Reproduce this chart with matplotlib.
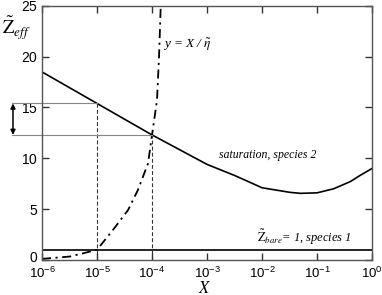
import numpy as np
import matplotlib
matplotlib.use("Agg")
import matplotlib.pyplot as plt
import matplotlib.transforms as mtransforms

plt.rcParams['mathtext.fontset'] = 'stix'
plt.rcParams['font.family'] = ['Liberation Sans', 'DejaVu Sans']

# ---- data ----
sat_x = [1e-6, 1e-5, 1e-4, 1e-3, 3.2e-3, 1e-2, 3.2e-2, 5e-2, 1e-1, 2e-1, 4e-1, 6e-1, 1.0]
sat_y = [18.5, 15.4, 12.3, 9.4, 8.3, 7.1, 6.65, 6.55, 6.6, 7.0, 7.7, 8.3, 9.0]

dd_x = [1e-6, 3.2e-6, 5.6e-6, 1e-5, 1.95e-5, 3.66e-5, 5.56e-5, 8.46e-5, 1e-4, 1.23e-4, 1.34e-4, 1.44e-4]
dd_y = [0.1, 0.33, 0.65, 1.0, 2.95, 4.9, 6.9, 9.5, 12.3, 15.7, 20.0, 25.0]

bare_x = [1e-6, 1.0]
bare_y = [1.0, 1.0]

x_marks = [1e-5, 1e-4]          # where the construction lines drop
xticks = [1e-6, 1e-5, 1e-4, 1e-3, 1e-2, 1e-1, 1e0]
xtick_labels = [r'$\mathregular{10^{-6}}$', r'$\mathregular{10^{-5}}$', r'$\mathregular{10^{-4}}$',
                r'$\mathregular{10^{-3}}$', r'$\mathregular{10^{-2}}$', r'$\mathregular{10^{-1}}$',
                r'$\mathregular{10^{0}}$']
yticks = [0, 5, 10, 15, 20, 25]

fig = plt.figure(figsize=(3.82, 2.95), dpi=100)
ax = fig.add_axes([0.110, 0.119, 0.864, 0.861])

ax.set_xscale('log')
ax.set_xlim(1e-6, 1.0)
ax.set_ylim(0, 25)

# curves
ax.plot(sat_x, sat_y, color='black', lw=1.2)
ax.plot(dd_x, dd_y, color='black', lw=1.3, linestyle=(0, (5, 2.5, 1.2, 2.5)))
ax.plot(bare_x, bare_y, color='black', lw=1.2)

# construction lines
sat_at = [float(np.interp(np.log10(xm), np.log10(sat_x), sat_y)) for xm in x_marks]
trans = mtransforms.blended_transform_factory(ax.transAxes, ax.transData)
for xm, ym in zip(x_marks, sat_at):
    ax.plot([xm, xm], [0, ym], color='#333333', lw=0.8, linestyle=(0, (3.5, 2)))
    xfrac = (np.log10(xm) + 6) / 6.0
    ax.plot([-0.09, xfrac], [ym, ym], color='#888888', lw=0.8, transform=trans, clip_on=False)

ax.annotate('', xy=(-0.088, sat_at[1]), xytext=(-0.088, sat_at[0]),
            xycoords=trans, textcoords=trans,
            arrowprops=dict(arrowstyle='<|-|>', color='black', lw=1.1,
                            mutation_scale=7, shrinkA=0, shrinkB=0),
            annotation_clip=False)

# ticks
ax.set_xticks(xticks)
ax.set_xticklabels(xtick_labels)
ax.minorticks_off()
ax.set_yticks(yticks)
ax.set_yticklabels([r'$\mathregular{%d}$' % v for v in yticks])
ax.tick_params(direction='in', length=5, width=1, color='#333333',
               top=True, right=True, labelsize=10, pad=3)
ax.tick_params(axis='x', pad=4, labelsize=9.5)
for s in ax.spines.values():
    s.set_color('#555555')
    s.set_linewidth(1.0)

# nudge the "0" label up slightly so it does not collide with 10^-6
zero_lbl = ax.get_yticklabels()[0]
zero_lbl.set_transform(zero_lbl.get_transform() +
                       mtransforms.ScaledTranslation(0, 2.5 / 72, fig.dpi_scale_trans))

# text labels
serif = ['Liberation Serif', 'DejaVu Serif']
ax.text(0.536, 0.413, 'saturation, species 2', transform=ax.transAxes,
        family=serif, style='italic', fontsize=8.5, va='center', ha='left')
ax.text(0.652, 0.09, r'$\tilde{\mathrm{Z}}_{bare}$= 1, species 1', transform=ax.transAxes,
        family=serif, style='italic', fontsize=9, va='center', ha='left')
ax.text(0.367, 0.846, r'y = X / $\tilde{\eta}$', transform=ax.transAxes,
        family=serif, style='italic', fontsize=9.5, va='center', ha='left')

fig.text(0.005, 0.905, r'$\tilde{\mathrm{Z}}_{eff}$', fontsize=13.5, va='center', ha='left')
fig.text(0.537, 0.023, r'$\mathit{X}$', fontsize=12, va='center', ha='center')

fig.savefig('out.png', dpi=100)
